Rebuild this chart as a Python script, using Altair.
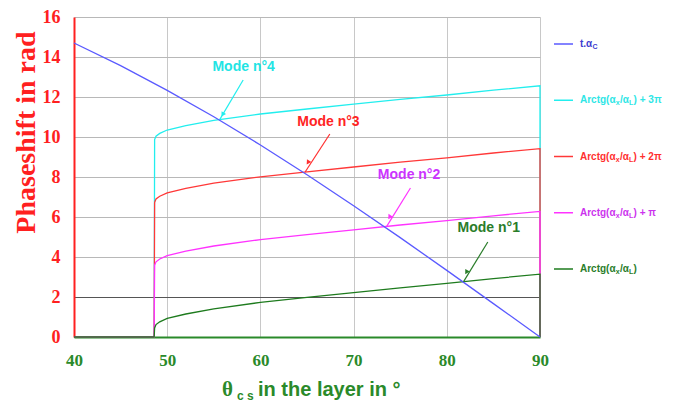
import altair as alt
import pandas as pd

# ---------------- data ----------------
theta = [40, 48.6, 48.65, 48.8, 49.2, 50, 52, 55, 60, 65, 70, 75, 80, 85, 90, 90]
arctg = [0, 0, 0.45, 0.62, 0.76, 0.93, 1.15, 1.41, 1.73, 1.98, 2.22, 2.46, 2.68, 2.92, 3.14, 0]
arctg_pi = [0, 0, 3.59, 3.76, 3.90, 4.07, 4.29, 4.55, 4.87, 5.12, 5.36, 5.60, 5.82, 6.06, 6.28, 0]
arctg_2pi = [0, 0, 6.73, 6.90, 7.04, 7.21, 7.43, 7.69, 8.01, 8.26, 8.50, 8.74, 8.96, 9.20, 9.42, 0]
arctg_3pi = [0, 0, 9.87, 10.04, 10.18, 10.35, 10.57, 10.83, 11.15, 11.40, 11.64, 11.88, 12.10, 12.34, 12.56, 0]

theta_blue = [40, 45, 50, 55, 60, 65, 70, 75, 80, 85, 90]
t_alpha_c = [14.70, 13.57, 12.33, 11.01, 9.60, 8.11, 6.56, 4.97, 3.33, 1.67, 0.0]

y_ticks = [0, 2, 4, 6, 8, 10, 12, 14, 16]
x_ticks = [40, 50, 60, 70, 80, 90]

series = ["t.αc", "Arctg+3π", "Arctg+2π", "Arctg+π", "Arctg"]
line_colors = ["#5a5aff", "#22eeee", "#ff3838", "#ff33ff", "#1e7b1e"]
text_colors = ["#3c3cd0", "#2ee6e6", "#ff3030", "#cc33ee", "#2a7d2a"]

# annotations
mode_labels = ["Mode n°4", "Mode n°3", "Mode n°2", "Mode n°1"]
mode_colors = ["#22e4e4", "#ff2424", "#cc33ff", "#2a7d2a"]
arrow_colors = ["#22eeee", "#ff3030", "#ff33ff", "#2a7d2a"]
label_x = [58.2, 67.3, 75.95, 84.5]
label_y = [13.5, 10.74, 8.08, 5.45]
arrow_x1 = [58.15, 67.45, 76.1, 84.4]
arrow_y1 = [12.85, 10.15, 7.45, 4.75]
arrow_x2 = [55.65, 64.8, 73.55, 81.8]
arrow_y2 = [10.88, 8.25, 5.53, 2.77]
head_x = [55.95, 65.1, 73.85, 82.1]
head_y = [11.12, 8.72, 5.99, 3.24]
head_angle = [211, 213, 212, 210]

# legend texts
leg_main = ["t.α", "Arctg(α", "Arctg(α", "Arctg(α", "Arctg(α"]
leg_sub1 = ["C", "x", "x", "x", "x"]
leg_mid = ["", "/α", "/α", "/α", "/α"]
leg_sub2 = ["", "L", "L", "L", "L"]
leg_rest = ["", ") + 3π", ") + 2π", ") + π", ")"]

# ---------------- tables ----------------
rows = []
curves = [("Arctg+3π", arctg_3pi), ("Arctg+2π", arctg_2pi), ("Arctg+π", arctg_pi), ("Arctg", arctg)]
for name, vals in curves:
    for i, (x, y) in enumerate(zip(theta, vals)):
        rows.append({"x": x, "y": y, "s": name, "i": i})
for i, (x, y) in enumerate(zip(theta_blue, t_alpha_c)):
    rows.append({"x": x, "y": y, "s": "t.αc", "i": i})
df = pd.DataFrame(rows)

ann = pd.DataFrame({
    "label": mode_labels, "tc": mode_colors, "ac": arrow_colors,
    "lx": label_x, "ly": label_y, "x1": arrow_x1, "y1": arrow_y1,
    "x2": arrow_x2, "y2": arrow_y2, "hx": head_x, "hy": head_y, "ang": head_angle,
})

W, H = 466, 320
GREEN = "#2a8a2a"
RED = "#ff2020"

xscale = alt.Scale(domain=[40, 90], nice=False, zero=False)
yscale = alt.Scale(domain=[0, 16], nice=False)

xaxis = alt.Axis(values=x_ticks, title=None, labelColor=GREEN,
                 labelFont="Liberation Serif", labelFontWeight="bold", labelFontSize=17,
                 ticks=False, tickSize=0, labelPadding=15, labelFlush=False,
                 labelOverlap=False,
                 domainColor=GREEN, domainWidth=2, gridColor="#c8c8c8", gridWidth=1)
yaxis = alt.Axis(values=y_ticks, tickCount=9, title="Phaseshift in rad", titleColor=RED,
                 titleFont="Liberation Serif", titleFontWeight="bold", titleFontSize=28,
                 titleX=-48, titleY=115, titleBaseline="middle", titleAlign="center",
                 labelColor=RED, labelFont="Liberation Serif", labelFontWeight="bold",
                 labelFontSize=18, ticks=False, tickSize=0, labelPadding=14,
                 labelOverlap=False,
                 domainColor=RED, domainWidth=2,
                 gridColor={"condition": {"test": "datum.value == 2", "value": "#555555"},
                            "value": "#b8b8b8"}, gridWidth=1)

base = alt.Chart(df)
lines = base.mark_line(strokeWidth=1.3, clip=False).encode(
    x=alt.X("x:Q", scale=xscale, axis=xaxis),
    y=alt.Y("y:Q", scale=yscale, axis=yaxis),
    color=alt.Color("s:N", scale=alt.Scale(domain=series, range=line_colors), legend=None),
    detail="s:N",
    order="i:Q",
)

annb = alt.Chart(ann)
arrows = annb.mark_rule(strokeWidth=1.2).encode(
    x=alt.X("x1:Q", scale=xscale, axis=xaxis), y=alt.Y("y1:Q", scale=yscale, axis=yaxis),
    x2="x2:Q", y2="y2:Q", color=alt.Color("ac:N", scale=None))
heads = annb.mark_point(shape="triangle-up", filled=True, size=28, opacity=1).encode(
    x=alt.X("hx:Q", scale=xscale, axis=xaxis), y=alt.Y("hy:Q", scale=yscale, axis=yaxis),
    angle=alt.Angle("ang:Q", scale=None), color=alt.Color("ac:N", scale=None))
labels = annb.mark_text(font="Liberation Sans", fontWeight="bold", fontSize=14,
                        align="center", baseline="middle").encode(
    x=alt.X("lx:Q", scale=xscale, axis=xaxis), y=alt.Y("ly:Q", scale=yscale, axis=yaxis),
    text="label:N", color=alt.Color("tc:N", scale=None))

# x-axis title pieces
def piece(txt, px, py, size, font):
    return alt.Chart(pd.DataFrame({"t": [txt]})).mark_text(
        font=font, fontWeight="bold", fontSize=size, align="left",
        baseline="alphabetic", color=GREEN).encode(
        x=alt.value(px), y=alt.value(py), text="t:N")

xt1 = piece("θ", 148, 379, 21, "Liberation Serif")
xt2 = piece("c s", 163, 383, 12, "Liberation Sans")
xt3 = piece("in the layer in °", 184, 379, 20, "Liberation Sans")

main = alt.layer(lines, arrows, heads, labels, xt1, xt2, xt3).properties(width=W, height=H)

# ---------------- legend ----------------
leg = pd.DataFrame({"row": list(range(5)), "lc": line_colors, "tc": text_colors,
                    "a": leg_main, "b": leg_sub1, "c": leg_mid, "d": leg_sub2, "e": leg_rest})
ly = alt.Y("row:O", scale=alt.Scale(type="point", padding=0.48), axis=None)
lb = alt.Chart(leg)
sym = lb.mark_rule(strokeWidth=1.5).encode(x=alt.value(4), x2=alt.value(23), y=ly,
                                          color=alt.Color("lc:N", scale=None))
def ltxt(field, px, size, dy=0, data=lb):
    return data.mark_text(font="Liberation Sans", fontWeight="bold", fontSize=size,
                          align="left", baseline="middle", dy=dy).encode(
        x=alt.value(px), y=ly, text=f"{field}:N", color=alt.Color("tc:N", scale=None))

lb0 = alt.Chart(leg[leg.row == 0])
lb1 = alt.Chart(leg[leg.row > 0])
t_a = ltxt("a", 30, 10)
t_b0 = ltxt("b", 42.5, 7, dy=3, data=lb0)
t_b1 = ltxt("b", 65.8, 7, dy=3, data=lb1)
t_c = ltxt("c", 70, 10, data=lb1)
t_d = ltxt("d", 79, 7, dy=3, data=lb1)
t_e = ltxt("e", 83.6, 10, data=lb1)
legend = alt.layer(sym, t_a, t_b0, t_b1, t_c, t_d, t_e).properties(width=100, height=279)

chart = alt.hconcat(main, legend, spacing=10, bounds="flush").configure_view(
    strokeWidth=0).properties(padding={"left": 3, "top": 0, "right": 0, "bottom": 0})

chart.save("out.html", embed_options={"renderer": "svg", "actions": False})
